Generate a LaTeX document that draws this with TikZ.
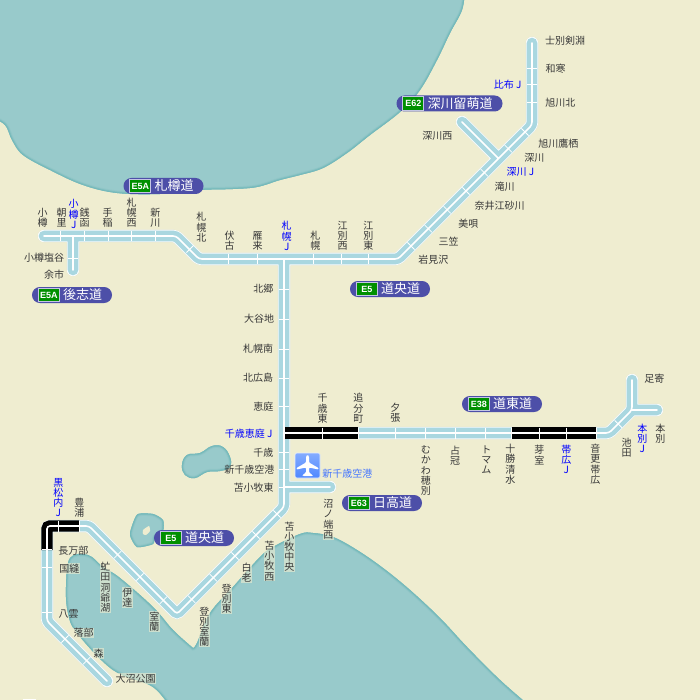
\documentclass[tikz,border=0pt]{standalone}
\usepackage{fontspec}
\setmainfont{Noto Sans CJK JP}
\newfontfamily\shieldfont{Liberation Sans}
\usetikzlibrary{positioning}
\definecolor{paper}{HTML}{EFEDD0}
\definecolor{sea}{HTML}{98CACB}
\definecolor{seamid}{HTML}{8AC3C4}
\definecolor{seaedge}{HTML}{74B9BA}
\definecolor{roadblue}{HTML}{A9D7E0}
\definecolor{roadshade}{HTML}{D6D4BC}
\definecolor{badgeblue}{HTML}{4D4FA8}
\definecolor{shieldgreen}{HTML}{009000}
\definecolor{shieldrim}{HTML}{C4C6E4}
\definecolor{stngrey}{HTML}{383838}
\definecolor{airblue}{HTML}{4F88FF}
\tikzset{
  roadshadow/.style={line width=12.5pt, roadshade, line cap=round, rounded corners=3pt, shift={(.8pt,.8pt)}},
  roadedge/.style={line width=12.5pt, white!92!roadblue, line cap=round, rounded corners=3pt},
  roadfill/.style={line width=10.6pt, roadblue, line cap=round, rounded corners=3pt},
  roadline/.style={line width=1.6pt, white, line cap=round, rounded corners=3pt},
  roadblack/.style={line width=11.4pt, black, line cap=butt, rounded corners=3pt},
  tickline/.style={line width=.8pt, white},
  stn/.style={font=\fontsize{10}{10.2}\selectfont, text=stngrey, align=center, inner sep=0pt},
  stnwet/.style={stn, fill=paper, fill opacity=.6, text opacity=1, inner sep=.6pt},
  stnj/.style={stn, text=blue},
  pill/.style={fill=badgeblue, rounded corners=7.9pt, minimum height=16pt, inner sep=0pt},
  shieldbox/.style={fill=shieldgreen, draw=shieldrim, line width=1pt, minimum width=21pt, minimum height=13.5pt,
    inner sep=0pt, text=white, font=\shieldfont\bfseries\fontsize{9}{9}\selectfont},
  pilltext/.style={text=white, inner sep=0pt, font=\fontsize{13}{13}\selectfont}
}
% name, centre, width, code, text
\newcommand{\roadbadge}[5]{
  \node[pill, minimum width=#3pt] (#1) at (#2) {};
  \node[shieldbox, anchor=west] (#1shield) at ([xshift=6pt]#1.west) {#4};
  \node[pilltext, right=3pt of #1shield] (#1text) {#5};
}
\newcommand{\seawater}[1]{
  \fill[sea] #1;
  \begin{scope}
    \clip #1;
    \draw[line width=5pt, seamid, opacity=.5] #1;
    \draw[line width=3pt, seaedge, opacity=.6] #1;
    \draw[line width=1.4pt, seaedge] #1;
  \end{scope}
}
\begin{document}
\begin{tikzpicture}[x=1pt, y=-1pt]
  \useasboundingbox (0,0) rectangle (700,700);
  \fill[paper] (0,0) rectangle (700,700);
  % sea and lakes
  \seawater{plot[smooth, tension=.6] coordinates {(465,-10) (462,10) (450,33) (437,60) (420,90) (400,112) (370,135)
    (347,153) (323,168) (300,175) (280,180) (257,187) (233,189) (200,190) (160,194) (117,193) (83,185) (50,170)
    (23,155) (12,140) (5,125) (-10,116)} -- (-10,-10) -- cycle}
  \seawater{plot[smooth, tension=.6] coordinates {(173,712) (153,687) (113,670) (77,633) (68,613) (66,587) (70,558)
    (88,555) (103,567) (120,578) (153,607) (173,630) (193,648)}
    -- plot[smooth, tension=.6] coordinates {(193,648) (197,643) (210,613) (233,587) (260,557) (273,547) (300,534)
    (313,533) (333,537) (357,550) (383,568) (410,590) (440,618) (467,647) (500,680) (531,707)} -- cycle}
  \seawater{plot[smooth cycle, tension=.7] coordinates {(182,465) (187,455) (200,453) (212,446) (223,447) (230,457)
    (230,467) (220,471) (207,472) (195,478) (185,475)}}
  \seawater{plot[smooth cycle, tension=.4] coordinates {(138,514) (153,514) (163,520) (163,531) (155,537) (153,544)
    (137,547) (130,535) (133,523)}}
  \fill[paper] plot[smooth cycle, tension=.3] coordinates {(143,530) (149,526) (150,531) (146,535) (143,534)};
  \fill[white] (23,698.5) rectangle (36,700);
  % road points
  \coordinate (otaru) at (44,236);
  \coordinate (otaruj) at (73,236);
  \coordinate (yoichi) at (73,270);
  \coordinate (bendwest) at (176,236);
  \coordinate (bendwest2) at (199,259);
  \coordinate (sapporoj) at (284,259);
  \coordinate (bendeast) at (398,259);
  \coordinate (fukagawaj) at (498.5,158.5);
  \coordinate (fukagawanishi) at (462,122);
  \coordinate (bendnorth) at (532,125);
  \coordinate (shibetsu) at (532,43);
  \coordinate (chitosej) at (284,433);
  \coordinate (tomakomaij) at (284,487);
  \coordinate (numanohata) at (330,487);
  \coordinate (bendsouth) at (284,507);
  \coordinate (muroran) at (177,614);
  \coordinate (toyoura) at (89,526);
  \coordinate (cornerwest) at (47,526);
  \coordinate (yakumo) at (47,621);
  \coordinate (onuma) at (107,681);
  \coordinate (bendikeda) at (609,433);
  \coordinate (honbetsuj) at (632,410);
  \coordinate (ashoro) at (632,380);
  \coordinate (honbetsu) at (657,410);
  \coordinate (blackstart) at (284,433);
  \coordinate (blackend) at (358,433);
  \coordinate (blackstart2) at (512,433);
  \coordinate (blackend2) at (596,433);
  \coordinate (blackstart3) at (79,526);
  \coordinate (blackend3) at (47,550);
  % roads, casing first
  \foreach \layer in {roadshadow,roadedge,roadfill}{
    \draw[\layer] (otaru) -- (bendwest) -- (bendwest2) -- (bendeast) -- (bendnorth) -- (shibetsu)
      (otaruj) -- (yoichi)
      (fukagawaj) -- (fukagawanishi)
      (sapporoj) -- (bendsouth) -- (muroran) -- (toyoura) -- (cornerwest) -- (yakumo) -- (onuma)
      (tomakomaij) -- (numanohata)
      (chitosej) -- (bendikeda) -- (honbetsuj) -- (ashoro)
      (honbetsuj) -- (honbetsu);
  }
  \draw[roadblack] (blackstart) -- (blackend);
  \draw[roadblack] (blackstart2) -- (blackend2);
  \draw[roadblack] (blackstart3) -- (cornerwest) -- (blackend3);
  \draw[roadline] (otaru) -- (bendwest) -- (bendwest2) -- (bendeast) -- (bendnorth) -- (shibetsu)
    (otaruj) -- (yoichi)
    (fukagawaj) -- (fukagawanishi)
    (sapporoj) -- (bendsouth) -- (muroran) -- (toyoura) -- (cornerwest) -- (yakumo) -- (onuma)
    (tomakomaij) -- (numanohata)
    (chitosej) -- (bendikeda) -- (honbetsuj) -- (ashoro)
    (honbetsuj) -- (honbetsu);
  % station ticks
  \foreach \x in {60.3,84.7,108.3,131.7,155.3} \draw[tickline] (\x,231) -- (\x,241);
  \foreach \x in {228.3,257.7,313.3,341.7,368.3} \draw[tickline] (\x,254) -- (\x,264);
  \foreach \x in {322.7,358.3,395.7,425.7,455.7,485.7,511.7,539.3,566.7,596} \draw[tickline] (\x,427.5) -- (\x,438.5);
  \foreach \x in {58.3,79.3} \draw[tickline] (\x,520.5) -- (\x,531.5);
  \foreach \y in {68.3,84.3,102.3} \draw[tickline] (527,\y) -- (537,\y);
  \foreach \y in {289.3,319,349,378,406.7,452.3,469.3,487.7} \draw[tickline] (279,\y) -- (289,\y);
  \foreach \y in {549.5,567.3,612.7} \draw[tickline] (42,\y) -- (52,\y);
  \draw[tickline] (68,258.7) -- (78,258.7);
  % ticks on the diagonals
  \foreach \x/\y in {411/246,428.3/228.7,447.2/209.8,466/191,484.3/172.7,508.3/148.7,525/132,618.3/424,
      277/514,256/535,235/556,213.3/577.7,191.7/599.3} \draw[tickline] (\x-3.6,\y-3.6) -- (\x+3.6,\y+3.6);
  \foreach \x/\y in {190/249,117.7/554.7,140/577,163.3/600.3,65/639,86.7/660.7} \draw[tickline] (\x+3.6,\y-3.6) -- (\x-3.6,\y+3.6);
  % airport
  \node[rounded corners=1.5pt, minimum size=25pt, inner sep=0pt, top color=airblue!70!white, bottom color=airblue, draw=white!85!airblue, line width=.6pt]
    (airport) at (307.5,465.5) {};
  \begin{scope}[shift={(airport.center)}]
    \fill[white, rounded corners=1pt] (-1.5,-9) -- (0,-11) -- (1.5,-9) -- (1.5,-3) -- (11,2.5) -- (11,4) -- (1.5,2) -- (1.5,7)
      -- (5,9.5) -- (5,10.5) -- (-5,10.5) -- (-5,9.5) -- (-1.5,7) -- (-1.5,2) -- (-11,4) -- (-11,2.5) -- (-1.5,-3) -- cycle;
  \end{scope}
  \node[stn, text=airblue!85!blue] (airportname) at (347.3,473.7) {新千歳空港};
  % stations
  \node[stn] (st1) at (42.5,217.7) {小\\樽};
  \node[stn] (st2) at (61.7,217.7) {朝\\里};
  \node[stnj] (st3) at (73.7,214) {小\\樽\\J};
  \node[stn] (st4) at (84.7,217.7) {銭\\函};
  \node[stn] (st5) at (107.7,217.7) {手\\稲};
  \node[stn] (st6) at (131.7,212.7) {札\\幌\\西};
  \node[stn] (st7) at (155.3,217.7) {新\\川};
  \node[stn] (st8) at (201.3,227.3) {札\\幌\\北};
  \node[stn] (st9) at (229.5,240.7) {伏\\古};
  \node[stn] (st10) at (257.7,240.7) {雁\\来};
  \node[stnj] (st11) at (286.7,236) {札\\幌\\J};
  \node[stn] (st12) at (315.3,240.7) {札\\幌};
  \node[stn] (st13) at (342.7,235.7) {江\\別\\西};
  \node[stn] (st14) at (368.3,235.7) {江\\別\\東};
  \node[stn] (st15) at (44,257.7) {小樽塩谷};
  \node[stn] (st16) at (54,275) {余市};
  \node[stn] (st17) at (565,41) {士別剣淵};
  \node[stn] (st18) at (555.7,68.7) {和寒};
  \node[stnj] (st19) at (507.7,84.7) {比布 J};
  \node[stn] (st20) at (560.3,102.7) {旭川北};
  \node[stn] (st21) at (437.3,136.3) {深川西};
  \node[stn] (st22) at (558.3,143.7) {旭川鷹栖};
  \node[stn] (st23) at (534.3,158) {深川};
  \node[stnj] (st24) at (520.3,172.3) {深川 J};
  \node[stn] (st25) at (504.7,186.7) {滝川};
  \node[stn] (st26) at (499.7,205.7) {奈井江砂川};
  \node[stn] (st27) at (468.3,223.3) {美唄};
  \node[stn] (st28) at (448.7,241.3) {三笠};
  \node[stn] (st29) at (433.3,259.3) {岩見沢};
  \node[stn] (st30) at (263.3,288.7) {北郷};
  \node[stn] (st31) at (259,319) {大谷地};
  \node[stn] (st32) at (258,349) {札幌南};
  \node[stn] (st33) at (258,378) {北広島};
  \node[stn] (st34) at (263.3,406.7) {恵庭};
  \node[stnj] (st35) at (248.7,433.3) {千歳恵庭 J};
  \node[stn] (st36) at (263.3,452.3) {千歳};
  \node[stn] (st37) at (249.3,469.3) {新千歳空港};
  \node[stn] (st38) at (253.7,487.7) {苫小牧東};
  \node[stn] (st39) at (322.7,408.3) {千\\歳\\東};
  \node[stn] (st40) at (358.3,408.3) {追\\分\\町};
  \node[stn] (st41) at (395.3,412.3) {夕\\張};
  \node[stn] (st42) at (425.8,470.5) {む\\か\\わ\\穂\\別};
  \node[stn] (st43) at (455,455.7) {占\\冠};
  \node[stn] (st44) at (486.3,460) {ト\\マ\\ム};
  \node[stn] (st45) at (510.3,464.3) {十\\勝\\清\\水};
  \node[stn] (st46) at (539.3,455) {芽\\室};
  \node[stnj] (st47) at (566.3,459.3) {帯\\広\\J};
  \node[stn] (st48) at (595.3,464.3) {音\\更\\帯\\広};
  \node[stn] (st49) at (626.7,447.7) {池\\田};
  \node[stnj] (st50) at (642.3,438.3) {本\\別\\J};
  \node[stn] (st51) at (660.3,434) {本\\別};
  \node[stn] (st52) at (654.3,378.7) {足寄};
  \node[stnwet] (st53) at (328.3,519.3) {沼\\ノ\\端\\西};
  \node[stnwet] (st54) at (289.3,546.7) {苫\\小\\牧\\中\\央};
  \node[stnwet] (st55) at (269.3,561) {苫\\小\\牧\\西};
  \node[stnwet] (st56) at (246.7,572.7) {白\\老};
  \node[stnwet] (st57) at (226.7,598.5) {登\\別\\東};
  \node[stnwet] (st58) at (204.3,626.7) {登\\別\\室\\蘭};
  \node[stnwet] (st59) at (154.3,621.7) {室\\蘭};
  \node[stnwet] (st60) at (127.3,597.3) {伊\\達};
  \node[stnwet] (st61) at (105.3,587.3) {虻\\田\\洞\\爺\\湖};
  \node[stnj] (st62) at (58.3,497.7) {黒\\松\\内\\J};
  \node[stn] (st63) at (79.3,507.3) {豊\\浦};
  \node[stn] (st64) at (73.3,550.7) {長万部};
  \node[stnwet] (st65) at (69.3,568.3) {国縫};
  \node[stn] (st66) at (68.7,613.7) {八雲};
  \node[stnwet] (st67) at (83.7,632.7) {落部};
  \node[stnwet] (st68) at (98.7,653.7) {森};
  \node[stnwet] (st69) at (135.7,678.7) {大沼公園};
  % route badges
  \roadbadge{sassonbadge}{163.5,186}{80}{E5A}{札樽道}
  \roadbadge{shiribeshibadge}{72,295}{80}{E5A}{後志道}
  \roadbadge{rumoibadge}{449.5,103.5}{106}{E62}{深川留萌道}
  \roadbadge{doonorthbadge}{390,289}{80}{E5}{道央道}
  \roadbadge{dotobadge}{502,404}{80}{E38}{道東道}
  \roadbadge{hidakabadge}{382,503}{80}{E63}{日高道}
  \roadbadge{doosouthbadge}{194,538}{80}{E5}{道央道}
\end{tikzpicture}
\end{document}
